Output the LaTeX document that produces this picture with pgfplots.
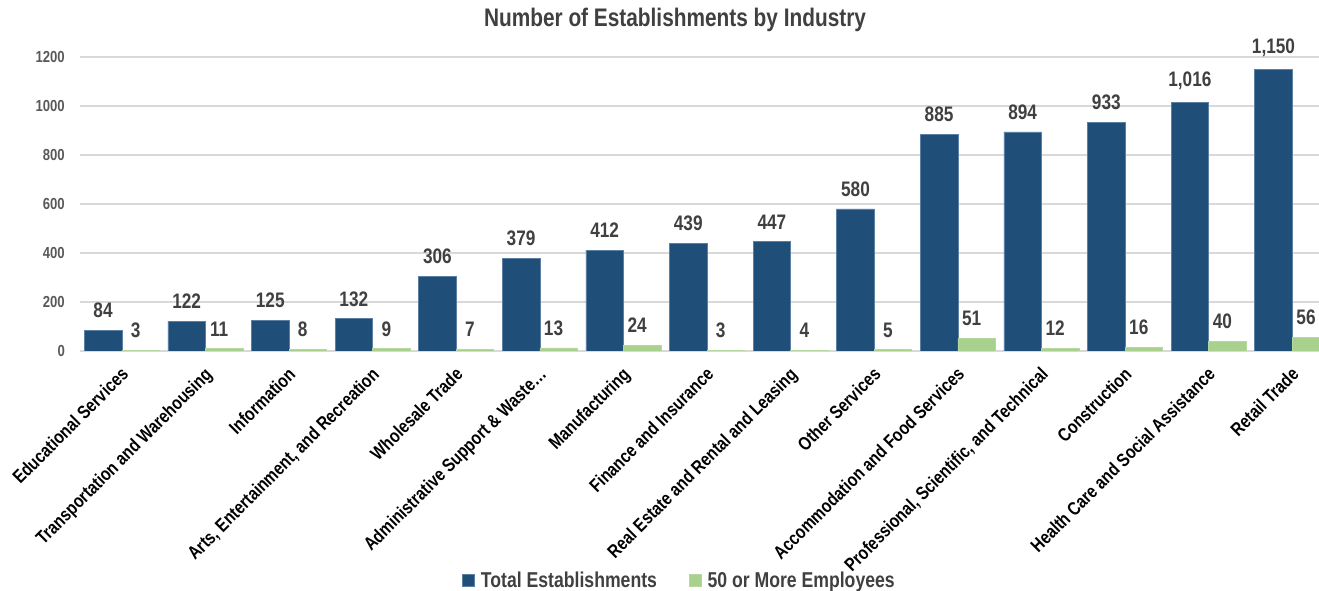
\documentclass[border=0pt]{standalone}
\usepackage{fontspec}
\setmainfont{Liberation Sans}[FakeStretch=0.82]
\usepackage{pgfplots}
\pgfplotsset{compat=1.18}
\definecolor{cblue}{HTML}{1F4E79}
\definecolor{cblueedge}{HTML}{5C7FA6}
\definecolor{cgreen}{HTML}{A9D18E}
\definecolor{lab}{HTML}{404040}
\definecolor{tickc}{HTML}{595959}
\definecolor{gridc}{HTML}{D9D9D9}
\begin{document}
\begin{tikzpicture}
\useasboundingbox (0,0) rectangle (1319pt,591pt);
\node[font=\bfseries\fontsize{25.4}{30}\selectfont, text=lab] at (675pt,571pt) {Number of Establishments by Industry};
\begin{axis}[
  at={(80pt,240pt)}, anchor=south west,
  scale only axis, width=1239pt, height=318.5pt,
  xmin=-0.5, xmax=14.32, ymin=0, ymax=1300,
  enlargelimits=false,
  clip mode=individual,
  ybar, bar width=0.4486,
  xtick={0,...,14},
  xticklabels={Educational Services, Transportation and Warehousing, Information, {Arts, Entertainment, and Recreation}, Wholesale Trade, Administrative Support \& Waste…, Manufacturing, Finance and Insurance, Real Estate and Rental and Leasing, Other Services, Accommodation and Food Services, {Professional, Scientific, and Technical}, Construction, Health Care and Social Assistance, Retail Trade},
  ytick={0,200,400,600,800,1000,1200},
  yticklabels={0,200,400,600,800,1000,1200},
  ymajorgrids, major grid style={draw=gridc, line width=1.5pt},
  axis line style={draw=none}, major tick length=0pt,
  xticklabel style={yshift=-15pt, xshift=-2pt, rotate=45, anchor=north east, inner sep=0pt, font=\bfseries\fontsize{18.7}{20}\selectfont, text=black},
  yticklabel style={anchor=east, inner sep=0pt, xshift=-15pt, font=\bfseries\fontsize{16}{18}\selectfont, text=tickc},
  /pgf/number format/assume math mode=true,
  nodes near coords,
  every node near coord/.append style={anchor=south, inner sep=0pt, yshift=12pt, font=\bfseries\fontsize{21}{24}\selectfont, text=lab},
  legend style={at={(0.4839,-0.719)}, anchor=center, draw=none, fill=none, legend columns=2,
    font=\bfseries\fontsize{21.5}{24}\selectfont, text=lab,
    /tikz/every odd column/.append style={column sep=4pt},
    /tikz/every even column/.append style={column sep=30pt}},
  legend image code/.code={\fill[#1] (0pt,-6pt) rectangle (12pt,6pt);},
]
\addplot[fill=cblue, draw=cblueedge, line width=0.6pt, bar shift=-0.2243] coordinates {
(0,84) (1,122) (2,125) (3,132) (4,306) (5,379) (6,412) (7,439) (8,447) (9,580) (10,885) (11,894) (12,933) (13,1016) (14,1150)};
\addplot[fill=cgreen, draw=cgreen!85!white, line width=0.6pt, bar shift=0.2243,
  every node near coord/.append style={xshift=-5pt}] coordinates {
(0,3) (1,11) (2,8) (3,9) (4,7) (5,13) (6,24) (7,3) (8,4) (9,5) (10,51) (11,12) (12,16) (13,40) (14,56)};
\legend{Total Establishments, 50 or More Employees}
\end{axis}
\end{tikzpicture}
\end{document}
